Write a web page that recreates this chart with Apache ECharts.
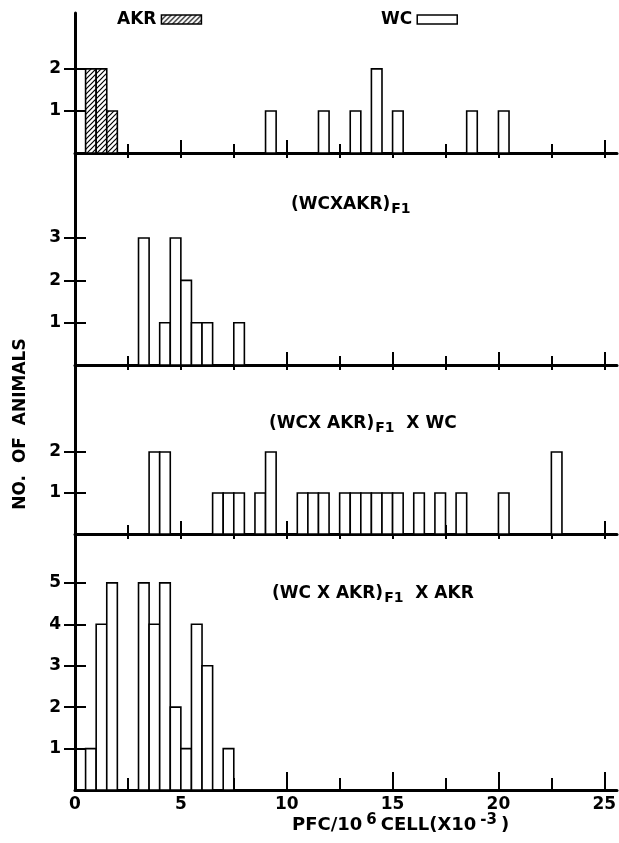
<!DOCTYPE html>
<html>
<head>
<meta charset="utf-8">
<script src="https://cdn.jsdelivr.net/npm/echarts@6/dist/echarts.min.js"></script>
<style>
  html, body { margin: 0; padding: 0; background: #fff; }
  #main { width: 619px; height: 843px; }
</style>
</head>
<body>
<div id="main"></div>
<script>
// histogram bins: left edge of each 0.5-wide bin (PFC/10^6 cell x10^-3) and no. of animals
const binWidth = 0.5;

const akrBins = [0.5, 1.0, 1.5];
const akrCounts = [2, 2, 1];

const wcBins = [9.0, 11.5, 13.0, 14.0, 15.0, 18.5, 20.0];
const wcCounts = [1, 1, 1, 2, 1, 1, 1];

const f1Bins = [3.0, 4.0, 4.5, 5.0, 5.5, 6.0, 7.5];
const f1Counts = [3, 1, 3, 2, 1, 1, 1];

const bcWcBins = [3.5, 4.0, 6.5, 7.0, 7.5, 8.5, 9.0, 10.5, 11.0, 11.5, 12.5, 13.0, 13.5, 14.0, 14.5, 15.0, 16.0, 17.0, 18.0, 20.0, 22.5];
const bcWcCounts = [2, 2, 1, 1, 1, 1, 2, 1, 1, 1, 1, 1, 1, 1, 1, 1, 1, 1, 1, 1, 2];

const bcAkrBins = [0.5, 1.0, 1.5, 3.0, 3.5, 4.0, 4.5, 5.0, 5.5, 6.0, 7.0];
const bcAkrCounts = [1, 4, 5, 5, 4, 5, 2, 1, 4, 3, 1];

const xLabels = [0, 5, 10, 15, 20, 25];
const xMajorTicks = [5, 10, 15, 20, 25];
const xMinorTicks = [2.5, 7.5, 12.5, 17.5, 22.5];
const xAllTicks = [2.5, 5, 7.5, 10, 12.5, 15, 17.5, 20, 22.5, 25];
const yTicks = [[1, 2], [1, 2, 3], [1, 2], [1, 2, 3, 4, 5]];

const panelTitles = [
    '',
    '{m|(WCXAKR)}{s|F1}',
    '{m|(WCX AKR)}{s|F1}{m|  X WC}',
    '{m|(WC X AKR)}{s|F1}{m|  X AKR}'
];

const FONT = '"DejaVu Sans", sans-serif';

// panel boxes in px
const panels = [
    { top: 13, height: 140, yMax: 3.33, titleX: 0, titleY: 0 },
    { top: 153, height: 212, yMax: 5.01, titleX: 291, titleY: 196 },
    { top: 365, height: 169, yMax: 4.12, titleX: 269, titleY: 415 },
    { top: 534, height: 256, yMax: 6.18, titleX: 272, titleY: 585 }
];
const xMax = 25.6;

// diagonal hatching for AKR
const hatch = document.createElement('canvas');
hatch.width = 5;
hatch.height = 5;
(function () {
    const c = hatch.getContext('2d');
    c.fillStyle = '#fff';
    c.fillRect(0, 0, 5, 5);
    c.strokeStyle = '#000';
    c.lineWidth = 1.2;
    c.beginPath();
    c.moveTo(-1, 6); c.lineTo(6, -1);
    c.moveTo(-1, 1); c.lineTo(1, -1);
    c.moveTo(4, 6); c.lineTo(6, 4);
    c.stroke();
})();
const hatchFill = { image: hatch, repeat: 'repeat' };

function pairs(bins, counts) {
    return bins.map(function (b, i) { return [b, counts[i]]; });
}

function binRenderer(fill) {
    return function (params, api) {
        const x0 = api.value(0);
        const n = api.value(1);
        const p0 = api.coord([x0, n]);
        const p1 = api.coord([x0 + binWidth, 0]);
        return {
            type: 'rect',
            shape: { x: p0[0], y: p0[1], width: p1[0] - p0[0], height: p1[1] - p0[1] },
            style: { fill: fill, stroke: '#000', lineWidth: 1.6 }
        };
    };
}

const tickFont = { color: '#000', fontSize: 17, fontFamily: FONT, fontWeight: 'bold' };

let grid = [], xAxis = [], yAxis = [], title = [];
let mainX = [], mainY = [];

panels.forEach(function (p, i) {
    grid.push({ left: 75, width: 542, top: p.top, height: p.height, outerBoundsMode: 'none', containLabel: false });

    mainX.push(xAxis.length);
    xAxis.push({
        type: 'value', gridIndex: i, position: 'bottom', min: 0, max: xMax,
        axisLine: { show: true, onZero: false, lineStyle: { color: '#000', width: 3 } },
        axisTick: { show: true, inside: true, length: i === 3 ? 18 : 13, customValues: xMajorTicks, lineStyle: { color: '#000', width: 2 } },
        axisLabel: Object.assign({ show: i === 3, customValues: xLabels, margin: 6 }, tickFont),
        splitLine: { show: false }
    });
    xAxis.push({
        type: 'value', gridIndex: i, position: 'bottom', min: 0, max: xMax,
        axisLine: { show: false },
        axisTick: { show: true, inside: true, length: i === 3 ? 12 : 9, customValues: xMinorTicks, lineStyle: { color: '#000', width: 2 } },
        axisLabel: { show: false },
        splitLine: { show: false }
    });
    if (i < 3) {
        xAxis.push({
            type: 'value', gridIndex: i, position: 'bottom', min: 0, max: xMax,
            axisLine: { show: false },
            axisTick: { show: true, inside: false, length: 5, customValues: xAllTicks, lineStyle: { color: '#000', width: 2 } },
            axisLabel: { show: false },
            splitLine: { show: false }
        });
    }

    mainY.push(yAxis.length);
    yAxis.push({
        type: 'value', gridIndex: i, position: 'left', min: 0, max: p.yMax,
        axisLine: { show: true, onZero: false, lineStyle: { color: '#000', width: 3 } },
        axisTick: { show: true, inside: false, length: 11, customValues: yTicks[i], lineStyle: { color: '#000', width: 2 } },
        axisLabel: Object.assign({ show: true, customValues: yTicks[i], margin: 14 }, tickFont),
        splitLine: { show: false }
    });
    yAxis.push({
        type: 'value', gridIndex: i, position: 'left', min: 0, max: p.yMax,
        axisLine: { show: false },
        axisTick: { show: true, inside: true, length: 11, customValues: yTicks[i], lineStyle: { color: '#000', width: 2 } },
        axisLabel: { show: false },
        splitLine: { show: false }
    });

    if (panelTitles[i]) {
        title.push({
            text: panelTitles[i],
            left: p.titleX, top: p.titleY, padding: 0,
            textStyle: {
                rich: {
                    m: { fontSize: 17, fontFamily: FONT, color: '#000', fontWeight: 'bold', verticalAlign: 'top', lineHeight: 20 },
                    s: { fontSize: 14, fontFamily: FONT, color: '#000', fontWeight: 'bold', verticalAlign: 'bottom', lineHeight: 15, padding: [12, 0, 0, 1] }
                }
            }
        });
    }
});

title.push({
    text: '{m|PFC/10}{p|6}{m|CELL(X10}{p|-3}{m|)}',
    left: 292, top: 813, padding: 0,
    textStyle: {
        rich: {
            m: { fontSize: 18, fontFamily: FONT, color: '#000', fontWeight: 'bold', verticalAlign: 'bottom', lineHeight: 21 },
            p: { fontSize: 15, fontFamily: FONT, color: '#000', fontWeight: 'bold', verticalAlign: 'top', lineHeight: 15, padding: [0, 4, 9, 4] }
        }
    }
});

function customSeries(name, panel, bins, counts, fill) {
    return {
        name: name,
        type: 'custom',
        xAxisIndex: mainX[panel],
        yAxisIndex: mainY[panel],
        renderItem: binRenderer(fill),
        encode: { x: 0, y: 1 },
        itemStyle: { color: fill === '#fff' ? '#fff' : '#000' },
        data: pairs(bins, counts),
        silent: true,
        clip: false
    };
}

const legendText = { fontSize: 17, fontFamily: FONT, color: '#000', fontWeight: 'bold' };

let option = {
    animation: false,
    backgroundColor: '#fff',
    title: title,
    legend: [{
        left: 117, top: 11, padding: 0, align: 'right', icon: 'rect',
        itemWidth: 40, itemHeight: 9, itemGap: 0, selectedMode: false, textStyle: legendText,
        data: [{ name: 'AKR', itemStyle: { color: hatchFill, borderColor: '#000', borderWidth: 1.5 } }]
    }, {
        left: 381, top: 11, padding: 0, align: 'right', icon: 'rect',
        itemWidth: 40, itemHeight: 9, itemGap: 0, selectedMode: false, textStyle: legendText,
        data: [{ name: 'WC', itemStyle: { color: '#fff', borderColor: '#000', borderWidth: 1.5 } }]
    }],
    grid: grid,
    xAxis: xAxis,
    yAxis: yAxis,
    graphic: [{
        type: 'text', x: 21, y: 424, rotation: Math.PI / 2,
        style: { text: 'NO.  OF  ANIMALS', align: 'center', verticalAlign: 'middle', fontSize: 17, fontFamily: FONT, fontWeight: 'bold', fill: '#000' }
    }],
    series: [
        customSeries('AKR', 0, akrBins, akrCounts, hatchFill),
        customSeries('WC', 0, wcBins, wcCounts, '#fff'),
        customSeries('F1', 1, f1Bins, f1Counts, '#fff'),
        customSeries('F1xWC', 2, bcWcBins, bcWcCounts, '#fff'),
        customSeries('F1xAKR', 3, bcAkrBins, bcAkrCounts, '#fff')
    ]
};

let chart = echarts.init(document.getElementById('main'));
chart.setOption(option);
</script>
</body>
</html>
